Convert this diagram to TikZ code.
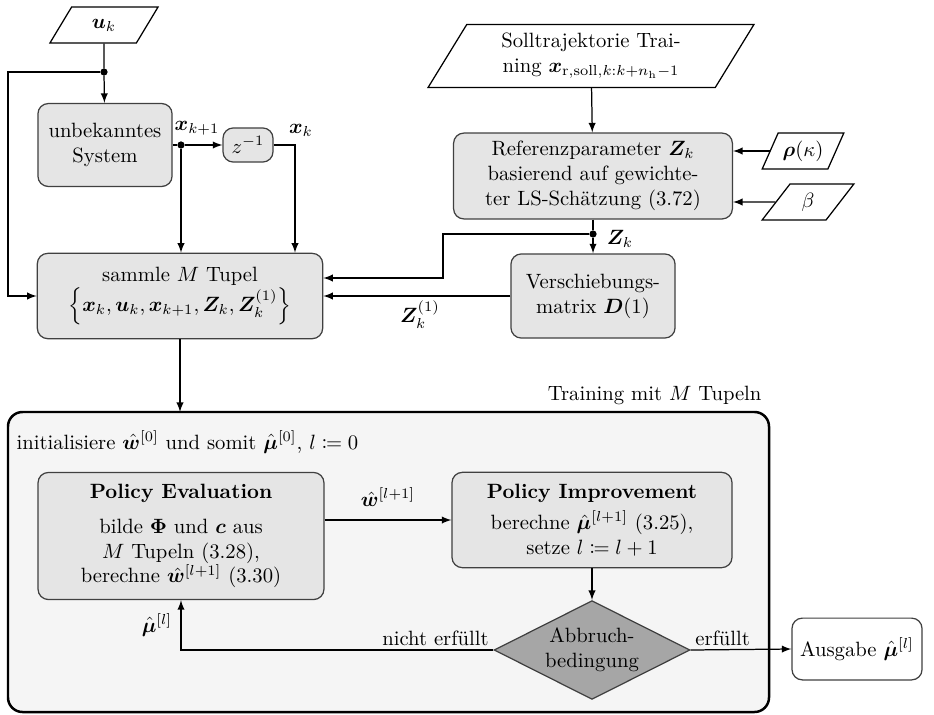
\documentclass[tikz,border=0pt]{standalone}
\usepackage{amsmath, amssymb, mathtools, bm}
\usepackage{tikz}
\usetikzlibrary{shapes.geometric, arrows}
\usetikzlibrary{calc}
\tikzset{
every picture/.style={line width=0.6pt, >=latex},
%%%%%%%%%%  Node styles
dotnode/.style={fill=black,circle,minimum size=3.5pt, inner sep=0pt, outer
sep=0},
block/.style={rectangle, rounded corners=5pt, text centered, draw=black!75,
              fill=black!10, align=center, inner sep=2pt},
io_para/.style={trapezium, trapezium left angle=60, trapezium right angle=120,
                trapezium stretches=true, draw=black, fill=white,
                align=center, inner sep=1pt},
decision/.style={diamond, aspect=2, draw=black!75, fill=black!35, align=center,
                 inner sep=0pt},
out_block/.style={rectangle, rounded corners=5pt, draw=black!75, fill=white,
                  align=center},
train_frame/.style={rounded corners=7pt, draw=black,
                    line width=1.2pt, fill=black!4},
%%%%%%% labels on lines
sig/.style={inner sep=1pt}
}

\begin{document}
\begin{tikzpicture}[x=0.017cm, y=-0.017cm]
\useasboundingbox (0,0) rectangle (934,714);
%% inputs
\node[io_para, minimum width=1.84cm, minimum height=0.61cm] (uk) at (104,25) {$\bm{u}_k$};
\node[io_para, minimum width=5.54cm, minimum height=1.07cm] (soll) at (591,56)
	{Solltrajektorie Trai-\\ning $\bm{x}_{\mathrm{r},\mathrm{soll},k:k+n_\mathrm{h}-1}$};
\node[io_para, minimum width=1.39cm, minimum height=0.61cm] (rho) at (803,151) {$\bm{\rho}(\kappa)$};
\node[io_para, minimum width=1.56cm, minimum height=0.61cm] (beta) at (808,202) {$\beta$};
%% blocks
\node[block, minimum width=2.28cm, minimum height=1.41cm] (sys) at (105,145) {unbekanntes\\System};
\node[block, minimum width=0.85cm, minimum height=0.58cm] (delay) at (248,145) {$z^{-1}$};
\node[block, minimum width=4.85cm, minimum height=1.45cm] (collect) at (180,296)
	{sammle $M$ Tupel\\$\left\{\bm{x}_k, \bm{u}_k, \bm{x}_{k+1}, \bm{Z}_k, \bm{Z}_k^{(1)}\right\}$};
\node[block, minimum width=4.74cm, minimum height=1.46cm] (ref) at (593,176)
	{Referenzparameter $\bm{Z}_k$\\basierend auf gewichte-\\ter LS-Sch\"atzung (3.72)};
\node[block, minimum width=2.79cm, minimum height=1.43cm] (shift) at (593,296)
	{Verschiebungs-\\matrix $\bm{D}(1)$};
%% junctions
\node[dotnode] (jU) at (104,72) {};
\node[dotnode] (jX) at (181,145) {};
\node[dotnode] (jZ) at (593,234) {};
\coordinate (cL) at (8,72);
\coordinate (cX) at (295,145);
\coordinate (cZ) at (443,234);
%% signal labels
\node[sig] (lxk1) at (197,128) {$\bm{x}_{k+1}$};
\node[sig] (lxk) at (301,130) {$\bm{x}_k$};
\node[sig] (lzk) at (620,239) {$\bm{Z}_k$};
\node[sig] (lzk1) at (420,315) {$\bm{Z}_k^{(1)}$};
%% connections top part
\draw (uk) -- (jU);
\draw[->] (jU) -- (sys);
\draw[->] (jU) -- (cL) |- (collect.west);
\draw (sys.east) -- (jX);
\draw[->] (jX) -- (delay);
\draw[->] (jX) -- (jX |- collect.north);
\draw[->] (delay) -- (cX) -- (cX |- collect.north);
\draw[->] (soll) -- (ref);
\draw[->] (rho) -- (ref.east |- rho);
\draw[->] (beta) -- (ref.east |- beta);
\draw (ref) -- (jZ);
\draw[->] (jZ) -- (shift);
\draw[->] (jZ) -- (cZ) |- ($(collect.east)+(0,-18)$);
\draw[->] (shift) -- (collect);
%%%%%%%%%%%%%%%%%%%%%%%%%%%%%%%%%%%%%%%%%%%%%%%%%%%%%%%
%% training loop
\coordinate (trNW) at (8,412);
\coordinate (trSE) at (769,712);
\draw[train_frame] (trNW) rectangle (trSE);
\node[anchor=south east] (trainlbl) at (trSE |- trNW) {Training mit $M$ Tupeln};
\draw[->] (collect) -- (collect.south |- trNW);
\node[anchor=west] (init) at (9,442)
	{initialisiere $\hat{\bm{w}}^{[0]}$ und somit $\hat{\bm{\mu}}^{[0]}$, $l \coloneqq 0$};
\node[block, minimum width=4.86cm, minimum height=2.16cm] (eval) at (181,536)
	{\textbf{Policy Evaluation}\\[5pt]bilde $\bm{\Phi}$ und $\bm{c}$ aus\\$M$ Tupeln (3.28),\\berechne $\hat{\bm{w}}^{[l+1]}$ (3.30)};
\node[block, minimum width=4.76cm, minimum height=1.62cm] (impr) at (592,520)
	{\textbf{Policy Improvement}\\[3pt]berechne $\hat{\bm{\mu}}^{[l+1]}$ (3.25),\\setze $l \coloneqq l+1$};
\node[decision, minimum width=3.33cm, minimum height=1.68cm] (stop) at (592,650) {Abbruch-\\bedingung};
\node[out_block, minimum width=2.21cm, minimum height=1.05cm] (out) at (857,649) {Ausgabe $\hat{\bm{\mu}}^{[l]}$};
%% loop edges
\draw[->] (eval.east |- impr.west) -- node[above=3pt] (lw) {$\hat{\bm{w}}^{[l+1]}$} (impr.west);
\draw[->] (impr) -- (stop);
\draw[->] (stop.west) -- node[pos=0, above left, inner sep=2pt] (lno) {nicht erf\"ullt}
	(eval.south |- stop.west) -- node[left, inner sep=4pt] (lmu) {$\hat{\bm{\mu}}^{[l]}$} (eval.south);
\draw[->] (stop.east) -- node[pos=0, above right, inner sep=2pt] (lyes) {erf\"ullt} (out.west);
\end{tikzpicture}
\end{document}
